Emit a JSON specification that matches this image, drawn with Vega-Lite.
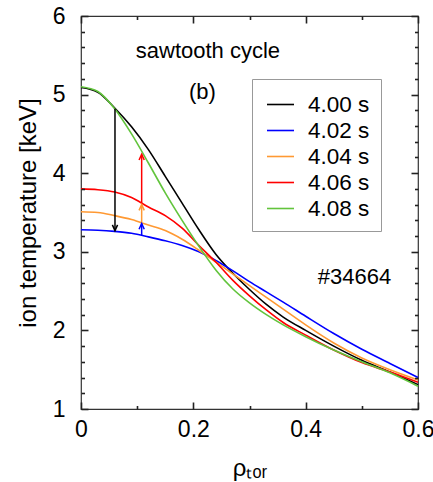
{
  "$schema": "https://vega.github.io/schema/vega-lite/v6.json",
  "width": 337,
  "height": 393,
  "autosize": {"type": "none"},
  "padding": {"left": 81, "top": 16, "right": 15, "bottom": 73},
  "background": "white",
  "config": {
    "view": {"stroke": "#333", "strokeWidth": 1.2},
    "font": "Liberation Sans",
    "axis": {"grid": false, "domain": false, "labelFont": "Liberation Sans", "titleFont": "Liberation Sans", "labelColor": "black", "titleColor": "black", "tickColor": "#222", "tickWidth": 1.6, "tickOpacity": 1, "titleFontWeight": "normal", "labelOverlap": false, "labelBound": false}
  },
  "datasets": {
    "profiles": [
      {"rho": 0.00, "Ti": 5.09, "time": "4.00 s"}, {"rho": 0.03, "Ti": 5.03, "time": "4.00 s"}, {"rho": 0.06, "Ti": 4.83, "time": "4.00 s"}, {"rho": 0.09, "Ti": 4.59, "time": "4.00 s"}, {"rho": 0.12, "Ti": 4.30, "time": "4.00 s"}, {"rho": 0.15, "Ti": 3.96, "time": "4.00 s"}, {"rho": 0.18, "Ti": 3.62, "time": "4.00 s"}, {"rho": 0.21, "Ti": 3.28, "time": "4.00 s"}, {"rho": 0.24, "Ti": 2.97, "time": "4.00 s"}, {"rho": 0.27, "Ti": 2.73, "time": "4.00 s"}, {"rho": 0.30, "Ti": 2.52, "time": "4.00 s"}, {"rho": 0.33, "Ti": 2.33, "time": "4.00 s"}, {"rho": 0.36, "Ti": 2.17, "time": "4.00 s"}, {"rho": 0.40, "Ti": 2.00, "time": "4.00 s"}, {"rho": 0.45, "Ti": 1.80, "time": "4.00 s"}, {"rho": 0.50, "Ti": 1.62, "time": "4.00 s"}, {"rho": 0.55, "Ti": 1.47, "time": "4.00 s"}, {"rho": 0.60, "Ti": 1.31, "time": "4.00 s"},
      {"rho": 0.00, "Ti": 3.28, "time": "4.02 s"}, {"rho": 0.03, "Ti": 3.275, "time": "4.02 s"}, {"rho": 0.06, "Ti": 3.26, "time": "4.02 s"}, {"rho": 0.09, "Ti": 3.235, "time": "4.02 s"}, {"rho": 0.12, "Ti": 3.19, "time": "4.02 s"}, {"rho": 0.15, "Ti": 3.14, "time": "4.02 s"}, {"rho": 0.18, "Ti": 3.08, "time": "4.02 s"}, {"rho": 0.21, "Ti": 3.00, "time": "4.02 s"}, {"rho": 0.24, "Ti": 2.89, "time": "4.02 s"}, {"rho": 0.27, "Ti": 2.76, "time": "4.02 s"}, {"rho": 0.30, "Ti": 2.62, "time": "4.02 s"}, {"rho": 0.33, "Ti": 2.49, "time": "4.02 s"}, {"rho": 0.36, "Ti": 2.36, "time": "4.02 s"}, {"rho": 0.40, "Ti": 2.18, "time": "4.02 s"}, {"rho": 0.45, "Ti": 1.96, "time": "4.02 s"}, {"rho": 0.50, "Ti": 1.76, "time": "4.02 s"}, {"rho": 0.55, "Ti": 1.58, "time": "4.02 s"}, {"rho": 0.60, "Ti": 1.40, "time": "4.02 s"},
      {"rho": 0.00, "Ti": 3.51, "time": "4.04 s"}, {"rho": 0.03, "Ti": 3.50, "time": "4.04 s"}, {"rho": 0.06, "Ti": 3.46, "time": "4.04 s"}, {"rho": 0.09, "Ti": 3.41, "time": "4.04 s"}, {"rho": 0.12, "Ti": 3.34, "time": "4.04 s"}, {"rho": 0.15, "Ti": 3.27, "time": "4.04 s"}, {"rho": 0.18, "Ti": 3.16, "time": "4.04 s"}, {"rho": 0.21, "Ti": 3.02, "time": "4.04 s"}, {"rho": 0.24, "Ti": 2.87, "time": "4.04 s"}, {"rho": 0.27, "Ti": 2.72, "time": "4.04 s"}, {"rho": 0.30, "Ti": 2.57, "time": "4.04 s"}, {"rho": 0.33, "Ti": 2.42, "time": "4.04 s"}, {"rho": 0.36, "Ti": 2.27, "time": "4.04 s"}, {"rho": 0.40, "Ti": 2.07, "time": "4.04 s"}, {"rho": 0.45, "Ti": 1.84, "time": "4.04 s"}, {"rho": 0.50, "Ti": 1.65, "time": "4.04 s"}, {"rho": 0.55, "Ti": 1.50, "time": "4.04 s"}, {"rho": 0.60, "Ti": 1.37, "time": "4.04 s"},
      {"rho": 0.00, "Ti": 3.80, "time": "4.06 s"}, {"rho": 0.03, "Ti": 3.79, "time": "4.06 s"}, {"rho": 0.06, "Ti": 3.76, "time": "4.06 s"}, {"rho": 0.09, "Ti": 3.69, "time": "4.06 s"}, {"rho": 0.12, "Ti": 3.57, "time": "4.06 s"}, {"rho": 0.15, "Ti": 3.46, "time": "4.06 s"}, {"rho": 0.18, "Ti": 3.30, "time": "4.06 s"}, {"rho": 0.21, "Ti": 3.08, "time": "4.06 s"}, {"rho": 0.24, "Ti": 2.87, "time": "4.06 s"}, {"rho": 0.27, "Ti": 2.64, "time": "4.06 s"}, {"rho": 0.30, "Ti": 2.44, "time": "4.06 s"}, {"rho": 0.33, "Ti": 2.26, "time": "4.06 s"}, {"rho": 0.36, "Ti": 2.10, "time": "4.06 s"}, {"rho": 0.40, "Ti": 1.94, "time": "4.06 s"}, {"rho": 0.45, "Ti": 1.75, "time": "4.06 s"}, {"rho": 0.50, "Ti": 1.59, "time": "4.06 s"}, {"rho": 0.55, "Ti": 1.47, "time": "4.06 s"}, {"rho": 0.60, "Ti": 1.34, "time": "4.06 s"},
      {"rho": 0.00, "Ti": 5.10, "time": "4.08 s"}, {"rho": 0.03, "Ti": 5.04, "time": "4.08 s"}, {"rho": 0.06, "Ti": 4.82, "time": "4.08 s"}, {"rho": 0.09, "Ti": 4.50, "time": "4.08 s"}, {"rho": 0.12, "Ti": 4.13, "time": "4.08 s"}, {"rho": 0.15, "Ti": 3.75, "time": "4.08 s"}, {"rho": 0.18, "Ti": 3.40, "time": "4.08 s"}, {"rho": 0.21, "Ti": 3.07, "time": "4.08 s"}, {"rho": 0.24, "Ti": 2.77, "time": "4.08 s"}, {"rho": 0.27, "Ti": 2.53, "time": "4.08 s"}, {"rho": 0.30, "Ti": 2.35, "time": "4.08 s"}, {"rho": 0.33, "Ti": 2.20, "time": "4.08 s"}, {"rho": 0.36, "Ti": 2.07, "time": "4.08 s"}, {"rho": 0.40, "Ti": 1.92, "time": "4.08 s"}, {"rho": 0.45, "Ti": 1.75, "time": "4.08 s"}, {"rho": 0.50, "Ti": 1.60, "time": "4.08 s"}, {"rho": 0.55, "Ti": 1.46, "time": "4.08 s"}, {"rho": 0.60, "Ti": 1.29, "time": "4.08 s"}
    ],
    "arrows": [
      {"rho": 0.0605, "base": 4.82, "tip": 3.27, "time": "4.00 s", "dir": "down"},
      {"rho": 0.108, "base": 3.21, "tip": 3.36, "time": "4.02 s", "dir": "up"},
      {"rho": 0.108, "base": 3.37, "tip": 3.60, "time": "4.04 s", "dir": "up"},
      {"rho": 0.108, "base": 3.62, "tip": 4.24, "time": "4.06 s", "dir": "up"}
    ],
    "notes": [
      {"rho": 0.226, "Ti": 5.55, "label": "sawtooth cycle"},
      {"rho": 0.216, "Ti": 5.03, "label": "(b)"},
      {"rho": 0.487, "Ti": 2.675, "label": "#34664"}
    ]
  },
  "resolve": {"axis": {"x": "independent", "y": "independent"}},
  "layer": [
    {
      "data": {"name": "profiles"},
      "mark": {"type": "line", "interpolate": "monotone", "strokeWidth": 1.6},
      "encoding": {
        "x": {"field": "rho", "type": "quantitative", "scale": {"domain": [0, 0.6], "nice": false, "zero": false},
              "axis": {"orient": "bottom", "values": [0, 0.2, 0.4, 0.6], "format": "~g", "ticks": false,
                       "labelFontSize": 23, "labelPadding": 9, "labelFlush": false, "title": "ρₜₒᵣ", "titleFontSize": 24, "titlePadding": 15}},
        "y": {"field": "Ti", "type": "quantitative", "scale": {"domain": [1, 6], "nice": false, "zero": false},
              "axis": {"orient": "left", "values": [1, 2, 3, 4, 5, 6], "format": "d", "ticks": false,
                       "labelFontSize": 23, "labelPadding": 16, "title": "ion temperature [keV]", "titleFontSize": 24, "titlePadding": 12}},
        "color": {"field": "time", "type": "nominal",
                  "scale": {"domain": ["4.00 s", "4.02 s", "4.04 s", "4.06 s", "4.08 s"], "range": ["#000000", "#0000ff", "#ff9933", "#ff0000", "#62c43c"]},
                  "legend": {"orient": "none", "legendX": 171, "legendY": 63, "title": null, "strokeColor": "#999", "fillColor": "white", "padding": 11, "symbolOffset": 3, "symbolType": "stroke", "symbolSize": 729, "symbolStrokeWidth": 1.6, "labelFontSize": 22.5, "labelFont": "Liberation Sans", "labelColor": "black", "rowPadding": 0, "labelOffset": 13}}
      }
    },
    {
      "data": {"name": "notes"},
      "mark": {"type": "text", "fontSize": 22, "font": "Liberation Sans", "color": "black"},
      "encoding": {
        "x": {"field": "rho", "type": "quantitative",
              "axis": {"orient": "bottom", "values": [0, 0.2, 0.4, 0.6], "labels": false, "title": null, "ticks": true, "tickSize": 7, "offset": -7, "zindex": 1}},
        "y": {"field": "Ti", "type": "quantitative",
              "axis": {"orient": "left", "values": [1, 2, 3, 4, 5, 6], "labels": false, "title": null, "ticks": true, "tickSize": 7, "offset": -7, "zindex": 1}},
        "text": {"field": "label"}
      }
    },
    {
      "data": {"name": "arrows"},
      "mark": {"type": "rule", "strokeWidth": 1.5},
      "encoding": {
        "x": {"field": "rho", "type": "quantitative",
              "axis": {"orient": "top", "values": [0, 0.2, 0.4, 0.6], "labels": false, "title": null, "ticks": true, "tickSize": 7, "offset": -7, "zindex": 1}},
        "y": {"field": "base", "type": "quantitative",
              "axis": {"orient": "right", "values": [1, 2, 3, 4, 5, 6], "labels": false, "title": null, "ticks": true, "tickSize": 7, "offset": -7, "zindex": 1}},
        "y2": {"field": "tip"},
        "color": {"field": "time", "type": "nominal", "legend": null}
      }
    },
    {
      "data": {"name": "arrows"},
      "transform": [{"filter": "datum.dir === 'down'"}],
      "mark": {"type": "point", "shape": "M-0.55,-1.2L0,0L0.55,-1.2", "filled": false, "size": 90, "strokeWidth": 1.5, "opacity": 1},
      "encoding": {
        "x": {"field": "rho", "type": "quantitative",
              "axis": {"orient": "bottom", "values": [0.1, 0.3, 0.5], "labels": false, "title": null, "ticks": true, "tickSize": 3.5, "offset": -3.5, "zindex": 1}},
        "y": {"field": "tip", "type": "quantitative",
              "axis": {"orient": "left", "values": [1.2, 1.4, 1.6, 1.8, 2.2, 2.4, 2.6, 2.8, 3.2, 3.4, 3.6, 3.8, 4.2, 4.4, 4.6, 4.8, 5.2, 5.4, 5.6, 5.8], "labels": false, "title": null, "ticks": true, "tickSize": 3.5, "offset": -3.5, "zindex": 1}},
        "color": {"field": "time", "type": "nominal", "legend": null}
      }
    },
    {
      "data": {"name": "arrows"},
      "transform": [{"filter": "datum.dir === 'up'"}],
      "mark": {"type": "point", "shape": "M-0.55,1.2L0,0L0.55,1.2", "filled": false, "size": 90, "strokeWidth": 1.5, "opacity": 1},
      "encoding": {
        "x": {"field": "rho", "type": "quantitative",
              "axis": {"orient": "top", "values": [0.1, 0.3, 0.5], "labels": false, "title": null, "ticks": true, "tickSize": 3.5, "offset": -3.5, "zindex": 1}},
        "y": {"field": "tip", "type": "quantitative",
              "axis": {"orient": "right", "values": [1.2, 1.4, 1.6, 1.8, 2.2, 2.4, 2.6, 2.8, 3.2, 3.4, 3.6, 3.8, 4.2, 4.4, 4.6, 4.8, 5.2, 5.4, 5.6, 5.8], "labels": false, "title": null, "ticks": true, "tickSize": 3.5, "offset": -3.5, "zindex": 1}},
        "color": {"field": "time", "type": "nominal", "legend": null}
      }
    }
  ]
}
